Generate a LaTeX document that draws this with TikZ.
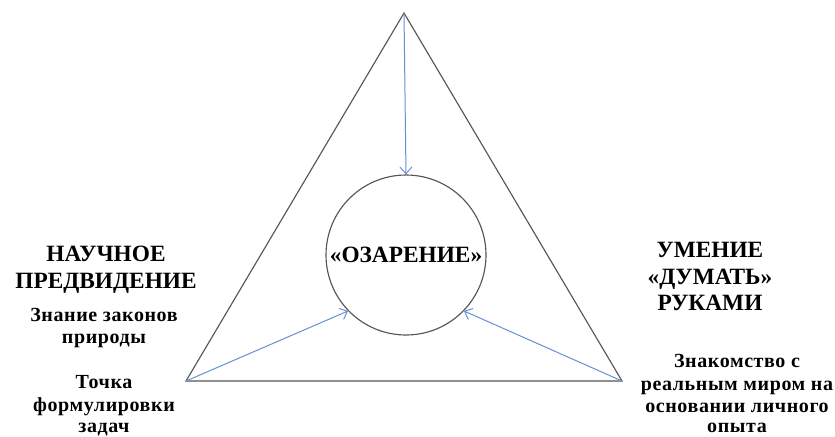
\documentclass[tikz,border=0pt]{standalone}
\usepackage{fontspec}
\setmainfont{Liberation Serif}
\newfontfamily\spacedfont{Liberation Serif}[LetterSpace=3]
\usetikzlibrary{arrows.meta}
\definecolor{edgegray}{RGB}{85,85,85}
\definecolor{arrowblue}{RGB}{100,145,212}
\begin{document}
\begin{tikzpicture}[x=0.75pt,y=-0.75pt,
  edge/.style={draw=edgegray,line width=0.85pt,line join=miter},
  flow/.style={draw=arrowblue,line width=0.75pt,-{Straight Barb[length=5pt,width=9pt]}},
  head/.style={font=\bfseries\fontsize{17.5}{20}\selectfont,anchor=base,inner sep=0pt},
  sub/.style={font=\spacedfont\bfseries\fontsize{15}{18}\selectfont,anchor=base,inner sep=0pt},
  ring/.style={circle,draw=edgegray,line width=0.85pt,minimum size=120pt,inner sep=0pt}]
\useasboundingbox (0,0) rectangle (835,436);
% triangle corners
\coordinate (top) at (404,13);
\coordinate (bl) at (186,381);
\coordinate (br) at (622,381);
\draw[edge] (top) -- (bl) -- (br) -- cycle;
% circle
\node[ring] (oz) at (406,255) {};
\node[head] (oztext) at (406,262) {«ОЗАРЕНИЕ»};
% arrows
\draw[flow] (top) -- (oz.north);
\draw[flow] (bl) -- (oz.224);
\draw[flow] (br) -- (oz.316);
% left texts
\node[head] (l1) at (106,261) {НАУЧНОЕ};
\node[head] (l2) at (106,288) {ПРЕДВИДЕНИЕ};
\node[sub] (l3) at (104,321) {Знание законов};
\node[sub] (l4) at (104,343) {природы};
\node[sub] (l5) at (104,388) {Точка};
\node[sub] (l6) at (104,411) {формулировки};
\node[sub] (l7) at (104,432) {задач};
% right texts
\node[head] (r1) at (710,257) {УМЕНИЕ};
\node[head] (r2) at (710,284) {«ДУМАТЬ»};
\node[head] (r3) at (710,310) {РУКАМИ};
\node[sub] (r4) at (737,367) {Знакомство с};
\node[sub] (r5) at (737,390) {реальным миром на};
\node[sub] (r6) at (737,412) {основании личного};
\node[sub] (r7) at (737,432) {опыта};
\end{tikzpicture}
\end{document}
